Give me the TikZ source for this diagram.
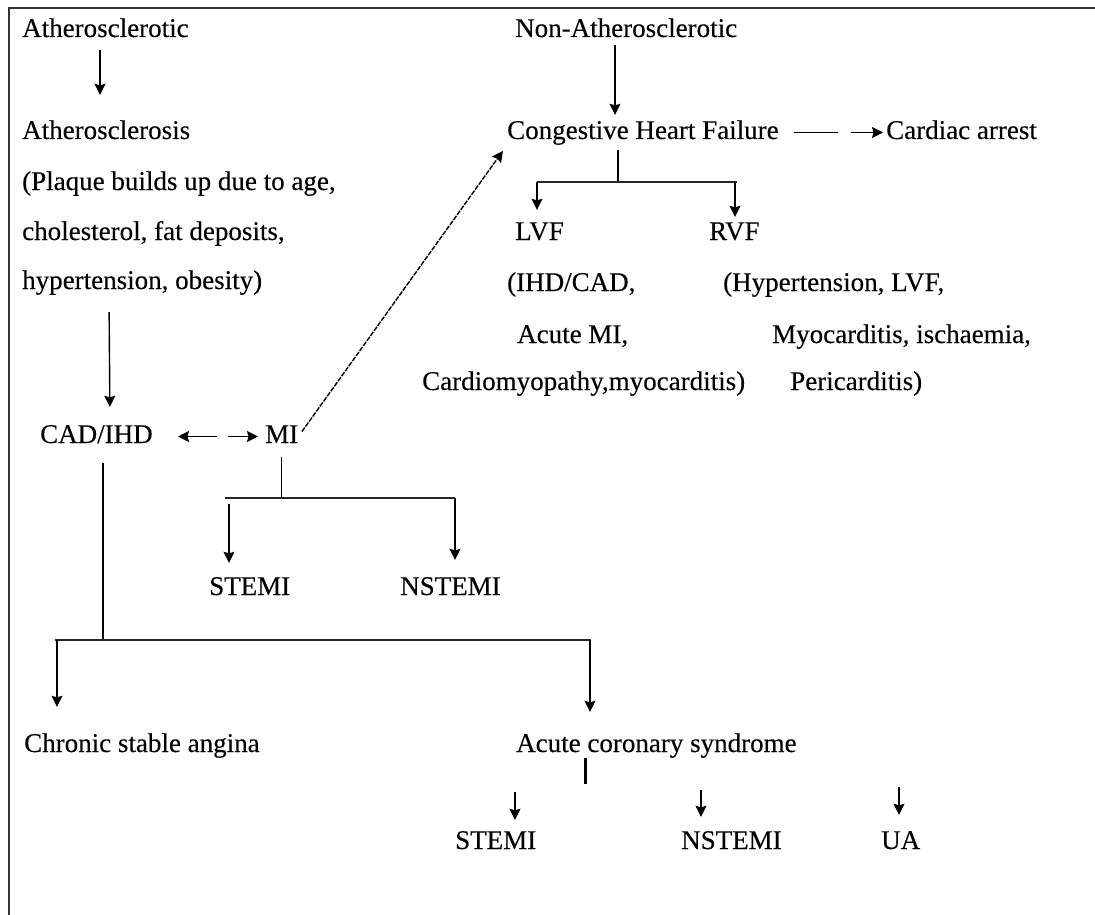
\documentclass[tikz,border=0pt]{standalone}
\usepackage{fontspec}
\setmainfont{Liberation Serif}[FakeBold=0.25]
\usetikzlibrary{arrows.meta}

\begin{document}
\begin{tikzpicture}[
    x=1pt, y=-1pt,
    % --- Styles ---
    % Every label sits on its base line, left edge at the given x
    text node/.style={font=\fontsize{27}{32}\selectfont, anchor=base west,
        inner sep=0pt, text height=19pt, text depth=6pt},
    link line/.style={draw=black, line width=1.4pt},
    link arrow/.style={link line, -{Stealth[length=11pt, width=11pt, inset=1.5pt]}},
    % Dotted-looking link from MI up to heart failure
    dash arrow/.style={link arrow, dash pattern=on 5pt off 1.2pt},
    branch bar/.style={draw=black!85, line width=1.7pt},
    frame line/.style={draw=black!80, line width=2pt}
]

%================CONFIGURATION================
% Page size (one unit = one pixel of the reference)
\def\picW{1095}
\def\picH{915}
%=============================================

\useasboundingbox (0,0) rectangle (\picW,\picH);

% Frame: only top and left edges
\draw[frame line] (9,\picH) -- (9,8) -- (\picW,8);

% --- 1. Atherosclerotic branch ---
\node[text node] (ath)    at (22,37)  {Atherosclerotic};
\node[text node] (athsis) at (22,139) {Atherosclerosis};
\node[text node] (plq1)   at (22,190) {(Plaque builds up due to age,};
\node[text node] (plq2)   at (22,240) {cholesterol, fat deposits,};
\node[text node] (plq3)   at (22,289) {hypertension, obesity)};
\node[text node] (cad)    at (40,443) {CAD/IHD};
\node[text node] (mi)     at (265,443) {MI};
\node[text node] (stemiA)  at (209,595) {STEMI};
\node[text node] (nstemiA) at (400,595) {NSTEMI};
\node[text node] (csa)    at (24,752)  {Chronic stable angina};
\node[text node] (acs)    at (516,752) {Acute coronary syndrome};
\node[text node] (stemiB)  at (455,849) {STEMI};
\node[text node] (nstemiB) at (681,849) {NSTEMI};
\node[text node] (ua)      at (881,849) {UA};

% --- 2. Non-atherosclerotic branch ---
\node[text node] (nonath) at (515,37)  {Non-Atherosclerotic};
\node[text node] (chf)    at (507,139) {Congestive Heart Failure};
\node[text node] (arrest) at (886,139) {Cardiac arrest};
\node[text node] (lvf)    at (515,240) {LVF};
\node[text node] (rvf)    at (709,240) {RVF};
\node[text node] (lvf1)   at (507,291) {(IHD/CAD,};
\node[text node] (lvf2)   at (517,343) {Acute MI,};
\node[text node] (lvf3)   at (422,390) {Cardiomyopathy,myocarditis)};
\node[text node] (rvf1)   at (723,291) {(Hypertension, LVF,};
\node[text node] (rvf2)   at (772,343) {Myocarditis, ischaemia,};
\node[text node] (rvf3)   at (790,390) {Pericarditis)};

% --- 3. Junction points ---
\coordinate (miL)  at (225,498);
\coordinate (miR)  at (455,498);
\coordinate (cadJ) at (103,640);
\coordinate (cadL) at (55,640);
\coordinate (cadR) at (591,640);
\coordinate (chfL) at (537,182);
\coordinate (chfR) at (737,182);
\coordinate (acsS) at (515,792);
\coordinate (acsN) at (701,790);
\coordinate (acsU) at (899,787);

% --- 4. Connectors ---
\draw[link arrow, shorten <=7pt, shorten >=25pt] (ath.south -| 100,0) -- (athsis.north -| 100,0);
\draw[link arrow, shorten <=17pt, shorten >=17pt] (plq3.south -| 109,0) -- (cad.north -| 110,0);

% CAD/IHD <-> MI as two separate arrows
\draw[link arrow] ([xshift=-48pt]mi.west) -- (cad.east -| 178,0);
\draw[link arrow] ([xshift=-37pt]mi.west) -- ([xshift=-7pt]mi.west);
\draw[dash arrow, shorten <=6pt, shorten >=7pt] (mi.east) -- (chf.south west);

% MI splits
\draw[link line, shorten <=8pt] (mi.south) -- (mi.south |- miL);
\draw[branch bar] (miL) -- (miR);
\draw[link arrow, shorten <=6pt, shorten >=13pt] ([xshift=4pt]miL) -- ([xshift=4pt]miL |- stemiA.north);
\draw[link arrow, shorten >=16pt] (miR) -- (miR |- nstemiA.north);

% CAD/IHD splits
\draw[link line, shorten <=14pt] (cadJ |- cad.south) -- (cadJ);
\draw[branch bar] (cadL) -- (cadR);
\draw[link arrow, shorten >=26pt] ([xshift=2pt]cadL) -- ([xshift=2pt]cadL |- csa.north);
\draw[link arrow, shorten >=21pt] ([xshift=-1pt]cadR) -- ([xshift=-1pt]cadR |- acs.north);

% Acute coronary syndrome
\draw[draw=black, line width=3pt] (acs.south -| 585,0) -- ++(0,26);
\draw[link arrow, shorten >=10pt] (acsS) -- (acsS |- stemiB.north);
\draw[link arrow, shorten >=13pt] (acsN) -- (acsN |- nstemiB.north);
\draw[link arrow, shorten >=15pt] (acsU) -- (acsU |- ua.north);

% Heart failure side
\draw[link arrow, shorten <=2pt, shorten >=5pt] (nonath.south -| 615,0) -- (chf.north -| 615,0);
\draw[link line] ([xshift=-92pt]arrest.west) -- ([xshift=-48pt]arrest.west);
\draw[link arrow] ([xshift=-35pt]arrest.west) -- ([xshift=-3pt]arrest.west);
\draw[link line, shorten <=5pt] (chf.south -| 618,0) -- (chfL -| 618,0);
\draw[branch bar] (chfL) -- (chfR);
\draw[link arrow, shorten >=11pt] (chfL) -- (chfL |- lvf.north);
\draw[link arrow, shorten >=4pt] ([xshift=-2pt]chfR) -- ([xshift=-2pt]chfR |- rvf.north);

\end{tikzpicture}
\end{document}
